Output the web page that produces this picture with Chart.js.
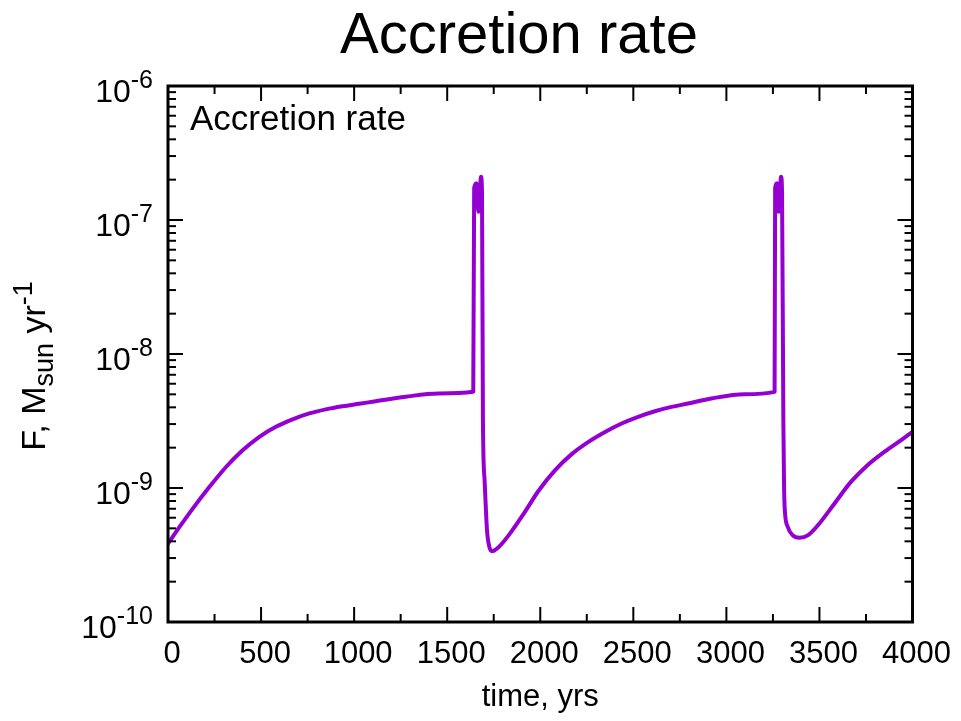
<!DOCTYPE html>
<html><head><meta charset="utf-8">
<script src="https://cdn.jsdelivr.net/npm/chart.js@4.4.1/dist/chart.umd.min.js"></script>
<style>html,body{margin:0;padding:0;background:#fff}#wrap{width:961px;height:721px;position:relative}</style>
</head><body><div id="wrap"><canvas id="c" width="961" height="721"></canvas></div>
<script>
// ---- data ----
const times = [
  0, 62, 133, 223, 313, 401, 491, 580, 669, 759, 848, 937, 1027, 1098, 1277, 1455, 1640,
  1645, 1658, 1668, 1682, 1687, 1692, 1701, 1714, 1727, 1741, 1776, 1830, 1915, 1990,
  2080, 2169, 2259, 2348, 2437, 2526, 2616, 2705, 2794, 2919, 3098, 3259,
  3262, 3272, 3281, 3294, 3299, 3306, 3310, 3314, 3330, 3357, 3393, 3437, 3491, 3580,
  3669, 3758, 3848, 3937, 4000
];
const rates = [
  3.84e-10, 5.12e-10, 7.02e-10, 1.02e-9, 1.44e-9, 1.91e-9, 2.41e-9, 2.86e-9, 3.25e-9, 3.60e-9, 3.86e-9, 4.07e-9, 4.25e-9, 4.40e-9, 4.80e-9, 5.07e-9, 5.22e-9,
  1.74e-7, 1.88e-7, 1.15e-7, 2.10e-7, 1.60e-7, 3.2e-9, 1.14e-9, 4.83e-10, 3.62e-10, 3.38e-10, 3.62e-10, 4.43e-10, 6.55e-10, 9.5e-10,
  1.36e-9, 1.79e-9, 2.21e-9, 2.62e-9, 3.03e-9, 3.40e-9, 3.74e-9, 4.03e-9, 4.27e-9, 4.66e-9, 5.01e-9, 5.22e-9,
  1.74e-7, 1.88e-7, 1.15e-7, 2.10e-7, 1.60e-7, 3.2e-9, 1.0e-9, 6.8e-10, 5.12e-10, 4.43e-10, 4.26e-10, 4.43e-10, 5.26e-10, 7.64e-10,
  1.11e-9, 1.48e-9, 1.86e-9, 2.27e-9, 2.62e-9
];
const xMajorTicks = [0, 500, 1000, 1500, 2000, 2500, 3000, 3500, 4000];
const xMinorTicks = [250, 750, 1250, 1750, 2250, 2750, 3250, 3750];
const yTickExponents = [-10, -9, -8, -7, -6];
const yMinorMultipliers = [2, 3, 4, 5, 6, 7, 8, 9];
const chartTitle = 'Accretion rate';
const keyLabel = 'Accretion rate';
const xAxisTitle = 'time, yrs';
const yAxisTitleParts = [['F, M', 'normal'], ['sun', 'sub'], [' yr', 'normal'], ['-1', 'sup']];

// ---- rendering ----
const FONT = '"Liberation Sans", Arial, Helvetica, sans-serif';
const LINE_COLOR = '#9400D3';

const decor = {
  id: 'decor',
  afterDraw(chart) {
    const { ctx, chartArea: a, scales: { x, y } } = chart;
    ctx.save();
    ctx.strokeStyle = '#000';
    ctx.lineCap = 'butt';
    const seg = (x1, y1, x2, y2) => { ctx.beginPath(); ctx.moveTo(x1, y1); ctx.lineTo(x2, y2); ctx.stroke(); };
    ctx.lineWidth = 2;
    const tickX = (v, L) => { const p = x.getPixelForValue(v); seg(p, a.bottom, p, a.bottom - L); seg(p, a.top, p, a.top + L); };
    xMajorTicks.forEach(v => tickX(v, 15));
    xMinorTicks.forEach(v => tickX(v, 8));
    const tickY = (v, L) => { const p = y.getPixelForValue(v); seg(a.left, p, a.left + L, p); seg(a.right, p, a.right - L, p); };
    yTickExponents.forEach(e => {
      tickY(Math.pow(10, e), 15);
      if (e < -6) yMinorMultipliers.forEach(m => tickY(m * Math.pow(10, e), 8));
    });
    ctx.lineWidth = 3;
    ctx.strokeRect(a.left, a.top, a.right - a.left, a.bottom - a.top);

    ctx.fillStyle = '#000';
    // y tick labels 10^n
    yTickExponents.forEach(e => {
      const p = y.getPixelForValue(Math.pow(10, e));
      const sup = String(e);
      ctx.font = '25px ' + FONT;
      const ws = ctx.measureText(sup).width;
      ctx.font = '32px ' + FONT;
      const wb = ctx.measureText('10').width;
      const right = a.left - 15;
      ctx.textAlign = 'left'; ctx.textBaseline = 'alphabetic';
      ctx.fillText('10', right - ws - wb, p + 16);
      ctx.font = '25px ' + FONT;
      ctx.fillText(sup, right - ws, p + 2);
    });
    // chart title
    ctx.font = '58px ' + FONT;
    ctx.textAlign = 'center';
    ctx.fillText(chartTitle, 519, 53);
    // key label inside plot
    ctx.font = '35px ' + FONT;
    ctx.textAlign = 'left';
    ctx.fillText(keyLabel, 190, 130);
    // x axis title
    ctx.font = '31px ' + FONT;
    ctx.textAlign = 'center';
    ctx.fillText(xAxisTitle, (a.left + a.right) / 2, 706);
    // y axis title (rotated, with sub/superscripts)
    const sizes = { normal: 34, sub: 27, sup: 27 };
    const shift = { normal: 0, sub: 8, sup: -13 };
    let total = 0;
    yAxisTitleParts.forEach(([t, k]) => { ctx.font = sizes[k] + 'px ' + FONT; total += ctx.measureText(t).width; });
    ctx.translate(45, 366);
    ctx.rotate(-Math.PI / 2);
    ctx.textAlign = 'left';
    let cx = -total / 2;
    yAxisTitleParts.forEach(([t, k]) => {
      ctx.font = sizes[k] + 'px ' + FONT;
      ctx.fillText(t, cx, shift[k]);
      cx += ctx.measureText(t).width;
    });
    ctx.restore();
  }
};

new Chart(document.getElementById('c'), {
  type: 'line',
  data: {
    datasets: [{
      data: times.map((t, i) => ({ x: t, y: rates[i] })),
      borderColor: LINE_COLOR,
      borderWidth: 4,
      pointRadius: 0,
      fill: false,
      cubicInterpolationMode: 'monotone',
      borderJoinStyle: 'round',
      borderCapStyle: 'round'
    }]
  },
  options: {
    responsive: false,
    animation: false,
    devicePixelRatio: 1,
    layout: { padding: { top: 86, right: 44, bottom: 0, left: 0 } },
    plugins: { legend: { display: false }, title: { display: false }, tooltip: { enabled: false } },
    scales: {
      x: {
        type: 'linear', min: 0, max: 4000,
        grid: { display: false, drawTicks: false },
        border: { display: false },
        afterFit: s => { s.height = 99; },
        afterBuildTicks: s => { s.ticks = xMajorTicks.map(v => ({ value: v })); },
        ticks: { color: '#000', font: { size: 31, family: FONT }, padding: 14, autoSkip: false, maxRotation: 0,
                 labelOffset: 4, callback: v => String(v) }
      },
      y: {
        type: 'logarithmic', min: 1e-10, max: 1e-6,
        grid: { display: false, drawTicks: false },
        border: { display: false },
        ticks: { display: false },
        afterFit: s => { s.width = 168; }
      }
    }
  },
  plugins: [decor]
});
</script>
</body></html>
